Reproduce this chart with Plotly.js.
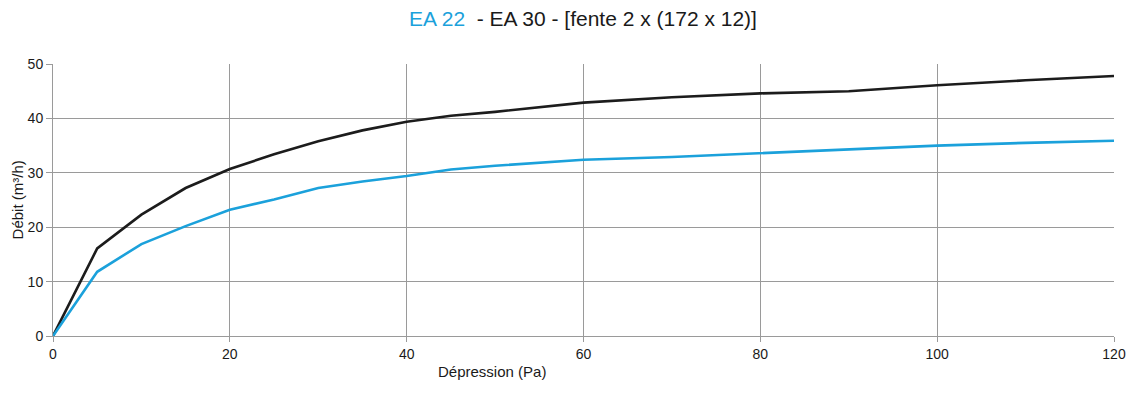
<!DOCTYPE html>
<html>
<head>
<meta charset="utf-8">
<script src="https://cdn.plot.ly/plotly-3.0.1.min.js"></script>
<style>body{margin:0;padding:0;background:#fff}#chart{width:1138px;height:396px}</style>
</head>
<body>
<div id="chart"></div>
<script>
const pressure = [0, 5, 10, 15, 20, 25, 30, 35, 40, 45, 50, 60, 70, 80, 90, 100, 110, 120];
const ea30 = [0, 16.1, 22.3, 27.2, 30.7, 33.4, 35.8, 37.8, 39.4, 40.5, 41.2, 42.9, 43.9, 44.6, 45.0, 46.1, 47.0, 47.8];
const ea22 = [0, 11.8, 16.9, 20.2, 23.2, 25.1, 27.2, 28.4, 29.4, 30.6, 31.3, 32.4, 32.9, 33.6, 34.3, 35.0, 35.5, 35.9];
const xTicks = [0, 20, 40, 60, 80, 100, 120];
const yTicks = [0, 10, 20, 30, 40, 50];

const traces = [
  {x: pressure, y: ea30, mode: 'lines', name: 'EA 30', line: {color: '#1c1c1c', width: 2.6}},
  {x: pressure, y: ea22, mode: 'lines', name: 'EA 22', line: {color: '#1ba1db', width: 2.6}}
];

const layout = {
  width: 1138, height: 396,
  margin: {l: 53, r: 24, t: 64, b: 60},
  paper_bgcolor: '#fff', plot_bgcolor: '#fff',
  showlegend: false,
  font: {family: 'Liberation Sans, Arial, sans-serif', color: '#1a1a1a', size: 14},
  title: {
    text: '<span style="color:#1ba1db">EA 22</span>&nbsp; - EA 30 - [fente 2 x (172 x 12)]',
    font: {size: 21, color: '#1a1a1a'},
    x: 0.5123, xref: 'container', xanchor: 'center', y: 0.952, yanchor: 'middle'
  },
  xaxis: {
    range: [0, 120], tickvals: xTicks, ticktext: xTicks.map(String),
    showgrid: true, gridcolor: '#9a9a9a', gridwidth: 1,
    showline: true, linecolor: '#9a9a9a', linewidth: 1,
    ticks: 'outside', ticklen: 5, tickcolor: '#9a9a9a',
    zeroline: false, tickfont: {size: 14}
  },
  yaxis: {
    range: [0, 50], tickvals: yTicks, ticktext: yTicks.map(String),
    showgrid: true, gridcolor: '#9a9a9a', gridwidth: 1,
    showline: true, linecolor: '#9a9a9a', linewidth: 1,
    ticks: 'outside', ticklen: 6, tickcolor: '#9a9a9a',
    zeroline: false, tickfont: {size: 14}
  },
  annotations: [
    {text: 'Dépression (Pa)', xref: 'paper', yref: 'paper', x: 0.4135, y: -0.1287,
     xanchor: 'center', yanchor: 'middle', showarrow: false, font: {size: 15, color: '#1a1a1a'}},
    {text: 'Débit (m³/h)', xref: 'paper', yref: 'paper', x: -0.0335, y: 0.5,
     xanchor: 'center', yanchor: 'middle', textangle: -90, showarrow: false, font: {size: 15, color: '#1a1a1a'}}
  ]
};

Plotly.newPlot('chart', traces, layout, {displayModeBar: false, staticPlot: true});
</script>
</body>
</html>
